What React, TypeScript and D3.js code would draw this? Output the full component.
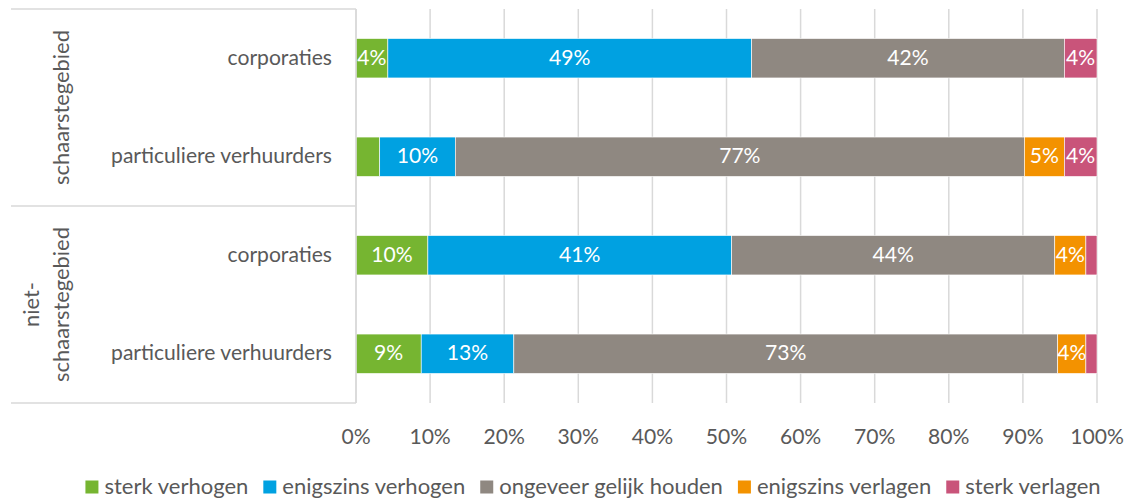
import React, { useEffect, useRef } from 'react';
import * as d3 from 'd3';

const categories = ['corporaties', 'particuliere verhuurders', 'corporaties', 'particuliere verhuurders'];
const groups = [
  { lines: ['schaarstegebied'], rows: [0, 1] },
  { lines: ['niet-', 'schaarstegebied'], rows: [2, 3] }
];
const seriesNames = ['sterk verhogen', 'enigszins verhogen', 'ongeveer gelijk houden', 'enigszins verlagen', 'sterk verlagen'];
const sterkVerhogen = [4.3, 3.2, 9.7, 8.8];
const enigszinsVerhogen = [49.1, 10.2, 41.0, 12.5];
const ongeveerGelijk = [42.2, 76.8, 43.6, 73.4];
const enigszinsVerlagen = [0, 5.4, 4.2, 3.8];
const sterkVerlagen = [4.4, 4.4, 1.5, 1.5];
const ticks = [0, 10, 20, 30, 40, 50, 60, 70, 80, 90, 100];
const colors = ['#76B531', '#00A1E1', '#8F8881', '#F39200', '#C9547A'];

const W = 1131;
const H = 499;
const FONT = 'Lato, "Open Sans", sans-serif';
const TEXT = '#595959';
const GRID = '#D9D9D9';

// size a font so that a sample string gets the width seen in the picture
function fitSize(svg: d3.Selection<SVGSVGElement, unknown, null, undefined>, sample: string, width: number) {
  const t = svg.append('text').attr('font-family', FONT).attr('font-size', 100).text(sample);
  const len = (t.node() as SVGTextElement).getComputedTextLength();
  t.remove();
  return (width * 100) / len;
}

export default function App() {
  const svgRef = useRef<SVGSVGElement>(null);

  useEffect(() => {
    if (!svgRef.current) return;
    const svg = d3.select(svgRef.current);
    svg.selectAll('*').remove();

    const fs = fitSize(svg, 'particuliere verhuurders', 221);
    const groupFs = fitSize(svg, 'schaarstegebied', 155);
    const legendFs = fitSize(svg, 'enigszins verhogen', 183);

    const margin = { top: 9, left: 356, right: 34, bottom: 96 };
    const plotW = W - margin.left - margin.right;
    const plotH = H - margin.top - margin.bottom;

    const x = d3.scaleLinear().domain([0, 100]).range([margin.left, margin.left + plotW]);
    const y = d3.scaleBand<number>()
      .domain(d3.range(categories.length))
      .range([margin.top, margin.top + plotH])
      .paddingInner(0.6)
      .paddingOuter(0.3);
    const rowStep = plotH / categories.length;

    const table = categories.map((c, i) => ({
      idx: i,
      [seriesNames[0]]: sterkVerhogen[i],
      [seriesNames[1]]: enigszinsVerhogen[i],
      [seriesNames[2]]: ongeveerGelijk[i],
      [seriesNames[3]]: enigszinsVerlagen[i],
      [seriesNames[4]]: sterkVerlagen[i]
    }));
    const stacked = d3.stack<any>().keys(seriesNames)(table);

    // gridlines
    svg.append('g')
      .selectAll('line')
      .data(ticks)
      .join('line')
      .attr('x1', d => x(d))
      .attr('x2', d => x(d))
      .attr('y1', margin.top)
      .attr('y2', margin.top + plotH)
      .attr('stroke', GRID)
      .attr('stroke-width', 1.5);

    // group frame lines on the left
    const boundaries = [0, 2, 4].map(r => margin.top + r * rowStep);
    svg.append('g')
      .selectAll('line')
      .data(boundaries)
      .join('line')
      .attr('x1', 11)
      .attr('x2', margin.left)
      .attr('y1', d => d)
      .attr('y2', d => d)
      .attr('stroke', GRID)
      .attr('stroke-width', 1.5);

    // bars
    const layers = svg.append('g')
      .selectAll('g')
      .data(stacked)
      .join('g')
      .attr('fill', (d, i) => colors[i]);

    layers.selectAll('rect')
      .data(d => d)
      .join('rect')
      .attr('x', d => x(d[0]))
      .attr('width', d => Math.max(0, x(d[1]) - x(d[0])))
      .attr('y', d => y(d.data.idx)!)
      .attr('height', y.bandwidth())
      .attr('stroke', '#fff')
      .attr('stroke-width', 0.6);

    layers.selectAll('text')
      .data(d => d.filter(v => v[1] - v[0] >= 3.5))
      .join('text')
      .attr('x', d => (x(d[0]) + x(d[1])) / 2)
      .attr('y', d => y(d.data.idx)! + y.bandwidth() / 2 - 2)
      .attr('text-anchor', 'middle')
      .attr('dominant-baseline', 'central')
      .attr('fill', '#fff')
      .attr('font-family', FONT)
      .attr('font-size', fs)
      .text(d => `${Math.round(d[1] - d[0])}%`);

    // category labels
    svg.append('g')
      .selectAll('text')
      .data(categories)
      .join('text')
      .attr('x', 332)
      .attr('y', (d, i) => y(i)! + y.bandwidth() / 2 - 2)
      .attr('text-anchor', 'end')
      .attr('dominant-baseline', 'central')
      .attr('fill', TEXT)
      .attr('font-family', FONT)
      .attr('font-size', fs)
      .text(d => d);

    // group labels (rotated)
    groups.forEach(g => {
      const cy = margin.top + (g.rows[0] + (g.rows[1] + 1)) / 2 * rowStep;
      const n = g.lines.length;
      g.lines.forEach((line, j) => {
        const cx = 60 - (n - 1 - j) * 30;
        svg.append('text')
          .attr('transform', `translate(${cx},${cy}) rotate(-90)`)
          .attr('text-anchor', 'middle')
          .attr('dominant-baseline', 'central')
          .attr('fill', TEXT)
          .attr('font-family', FONT)
          .attr('font-size', groupFs)
          .text(line);
      });
    });

    // x axis line
    svg.append('line')
      .attr('x1', x(0))
      .attr('x2', x(0))
      .attr('y1', margin.top)
      .attr('y2', margin.top + plotH)
      .attr('stroke', GRID)
      .attr('stroke-width', 1.5);

    // tick labels
    svg.append('g')
      .selectAll('text')
      .data(ticks)
      .join('text')
      .attr('x', d => x(d))
      .attr('y', 435)
      .attr('text-anchor', 'middle')
      .attr('dominant-baseline', 'central')
      .attr('fill', TEXT)
      .attr('font-family', FONT)
      .attr('font-size', fs)
      .text(d => `${d}%`);

    // legend
    const legend = svg.append('g');
    const items = legend.selectAll('g')
      .data(seriesNames)
      .join('g');
    items.append('rect')
      .attr('width', 13)
      .attr('height', 13)
      .attr('y', -6.5)
      .attr('fill', (d, i) => colors[i]);
    items.append('text')
      .attr('x', 19)
      .attr('y', -2)
      .attr('dominant-baseline', 'central')
      .attr('fill', TEXT)
      .attr('font-family', FONT)
      .attr('font-size', legendFs)
      .text(d => d);
    let offset = 0;
    const positions: number[] = [];
    items.each(function () {
      const t = d3.select(this).select('text').node() as SVGTextElement;
      positions.push(offset);
      offset += 19 + t.getComputedTextLength() + 15;
    });
    const total = offset - 15;
    const start = 593 - total / 2;
    items.attr('transform', (d, i) => `translate(${start + positions[i]},487)`);
  }, []);

  return (
    <svg
      ref={svgRef}
      width={W}
      height={H}
      style={{ position: 'absolute', left: 0, top: 0, background: '#fff', display: 'block' }}
    />
  );
}
